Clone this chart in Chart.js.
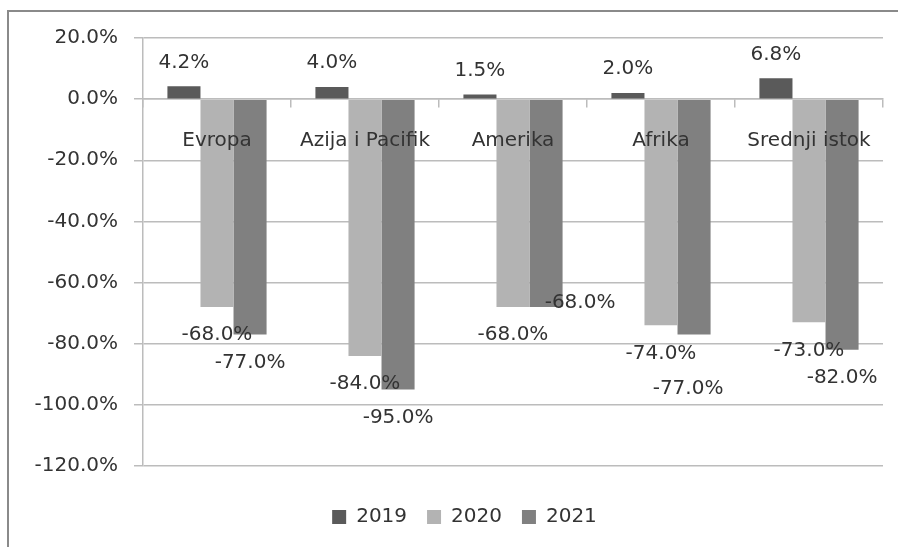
<!DOCTYPE html>
<html><head><meta charset="utf-8">
<script src="https://cdn.jsdelivr.net/npm/chart.js@4/dist/chart.umd.min.js"></script>
<style>
html,body{margin:0;padding:0;background:#fff;overflow:hidden}
#wrap{position:relative;width:898px;height:547px;overflow:hidden}
#frame{position:absolute;left:7px;top:10px;width:1000px;height:1000px;border-left:2px solid #8a8a8a;border-top:2px solid #8a8a8a}
canvas{position:absolute;left:0;top:0}
</style></head><body>
<div id="wrap"><div id="frame"></div><canvas id="c" width="898" height="547"></canvas></div>
<script>
const categories = ['Evropa', 'Azija i Pacifik', 'Amerika', 'Afrika', 'Srednji istok'];
const seriesNames = ['2019', '2020', '2021'];
const values2019 = [4.2, 4.0, 1.5, 2.0, 6.8];
const values2020 = [-68, -84, -68, -74, -73];
const values2021 = [-77, -95, -68, -77, -82];
const yTicks = [20, 0, -20, -40, -60, -80, -100, -120];

const colors = ['#5a5a5a', '#b3b3b3', '#808080'];
const textColor = '#333333';
const gridColor = '#bcbcbc';
const FONT = 'DejaVu Sans';
Chart.defaults.font.family = FONT;
Chart.defaults.font.size = 20;
Chart.defaults.color = textColor;

const fmt = v => v.toFixed(1) + '%';
// special label placement (dataset index, point index, pixel shift)
const labelAdjust = [{ds: 2, idx: 2, dx: 34, dy: -32}, {ds: 2, idx: 3, dx: -6, dy: 26}];

const dataLabels = {
  id: 'dataLabels',
  afterDatasetsDraw(chart) {
    const ctx = chart.ctx;
    ctx.save();
    ctx.font = '20px "' + FONT + '"';
    ctx.fillStyle = textColor;
    ctx.textAlign = 'center';
    ctx.textBaseline = 'middle';
    chart.data.datasets.forEach((ds, di) => {
      const meta = chart.getDatasetMeta(di);
      meta.data.forEach((el, i) => {
        const v = ds.data[i];
        let x = el.x;
        let y = v >= 0 ? el.y - 24 : el.y + 28;
        labelAdjust.forEach(a => { if (a.ds === di && a.idx === i) { x += a.dx; y += a.dy; } });
        ctx.fillText(fmt(v), x, y);
      });
    });
    ctx.restore();
  }
};

const legendShift = {
  id: 'legendShift',
  afterLayout(chart) {
    const lg = chart.legend;
    if (lg) { lg.top += 21; lg.bottom += 21; lg.left += 18; lg.right += 18; }
  }
};

new Chart(document.getElementById('c'), {
  type: 'bar',
  data: {
    labels: categories,
    datasets: [
      {label: seriesNames[0], data: values2019, backgroundColor: colors[0]},
      {label: seriesNames[1], data: values2020, backgroundColor: colors[1]},
      {label: seriesNames[2], data: values2021, backgroundColor: colors[2]}
    ]
  },
  options: {
    responsive: false,
    animation: false,
    events: [],
    layout: {padding: {left: 10, right: 15, top: 38, bottom: 31}},
    datasets: {bar: {categoryPercentage: 0.67, barPercentage: 1.0}},
    plugins: {
      tooltip: {enabled: false},
      legend: {
        position: 'bottom',
        labels: {boxWidth: 14, boxHeight: 14, padding: 20, color: textColor, font: {size: 20}}
      }
    },
    scales: {
      x: {
        position: {y: 0},
        offset: true,
        grid: {display: true, drawOnChartArea: false, drawTicks: true, tickLength: 8, color: gridColor, lineWidth: 1.5, offset: true},
        border: {display: true, color: gridColor, width: 1.5},
        ticks: {z: 1, padding: 22, color: textColor, font: {size: 20}, maxRotation: 0, autoSkip: false}
      },
      y: {
        min: -120, max: 20,
        afterFit(scale) { scale.width = 133; },
        afterBuildTicks(scale) { scale.ticks = yTicks.map(v => ({value: v})); },
        grid: {color: gridColor, lineWidth: 1.5, tickLength: 9},
        border: {display: true, color: gridColor, width: 1.5},
        ticks: {padding: 16, color: textColor, font: {size: 20}, callback: v => fmt(v)}
      }
    }
  },
  plugins: [dataLabels, legendShift]
});
</script>
</body></html>
